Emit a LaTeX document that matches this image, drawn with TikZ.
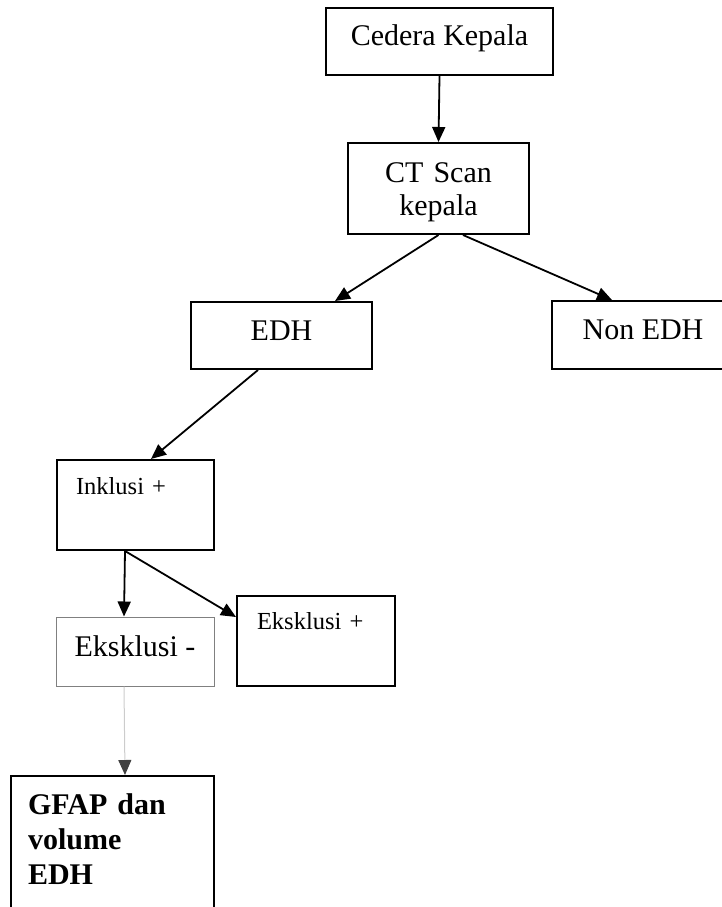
\documentclass[tikz,border=0pt]{standalone}
\usepackage{fontspec}
\setmainfont{Liberation Serif}
\usetikzlibrary{arrows.meta}

\newcommand{\boxfont}{\fontsize{30}{33}\selectfont}
\newcommand{\notefont}{\fontsize{24.5}{27}\selectfont}

\begin{document}
\begin{tikzpicture}[
          x=1pt, y=-1pt,
          stepbox/.style={rectangle, draw=black, line width=2pt, inner sep=0pt, align=center, font=\boxfont, text height=21pt, text depth=12pt},
          notebox/.style={rectangle, draw=black, line width=2pt, anchor=north west, inner xsep=19pt, inner ysep=0pt, align=left, font=\notefont},
          link/.style={-{Triangle[length=15pt, width=13pt]}, line width=1.8pt}
        ]
        \useasboundingbox (0,0) rectangle (722,907);
        \clip (0,0) rectangle (722,907);

        % ----------------------------------------------------
        % ALUR ATAS: CEDERA KEPALA -> CT SCAN
        % ----------------------------------------------------
        \node (cedera) at (439.5, 41.5) [stepbox, minimum width=227pt, minimum height=67pt] {Cedera Kepala};
        \node (ct) at (438.5, 188.5) [stepbox, text width=181pt, text height=39pt, text depth=52pt] {CT Scan\\kepala};

        % ----------------------------------------------------
        % HASIL CT SCAN
        % ----------------------------------------------------
        \node (edh) at (281.5, 335.5) [stepbox, minimum width=181pt, minimum height=67pt] {EDH};
        \node (nonedh) at (643, 335) [stepbox, minimum width=182pt, minimum height=68pt] {Non EDH};

        % ----------------------------------------------------
        % SELEKSI SAMPEL
        % ----------------------------------------------------
        \node (inklusi) at (56, 459) [notebox, text width=119pt, text height=34pt, text depth=56pt] {Inklusi +};
        \node (eksmin) at (135, 651.5) [stepbox, draw=black!50, line width=1pt, minimum width=158pt, minimum height=69pt] {Eksklusi -};
        \node (eksplus) at (236, 595) [notebox, inner xsep=20pt, text width=118pt, text height=33pt, text depth=57pt] {Eksklusi +};
        \node (gfap) at (10, 775) [notebox, inner xsep=17pt, text width=169pt, text height=38pt, text depth=120pt, font=\fontsize{30}{35}\selectfont\bfseries] {GFAP dan\\volume\\EDH};

        % ----------------------------------------------------
        % PANAH PENGHUBUNG
        % ----------------------------------------------------
        \draw[link] (cedera.south) -- (ct.north);
        \draw[link] (ct.south) -- ([xshift=53.5pt]edh.north);
        \draw[link] ([xshift=24.5pt]ct.south) -- ([xshift=-31pt]nonedh.north);
        \draw[link] ([xshift=-23.5pt]edh.south) -- ([xshift=15.5pt]inklusi.north);
        \draw[link] ([xshift=-10.5pt]inklusi.south) -- ([xshift=-11pt]eksmin.north);
        \draw[link] ([xshift=-10.5pt]inklusi.south) -- ([yshift=-22pt]eksplus.north west);
        \draw[-{Triangle[length=15pt, width=13pt, color=black!75]}, line width=1pt, draw=black!20] ([xshift=-11pt]eksmin.south) -- ([xshift=12.5pt]gfap.north);
      \end{tikzpicture}
\end{document}
